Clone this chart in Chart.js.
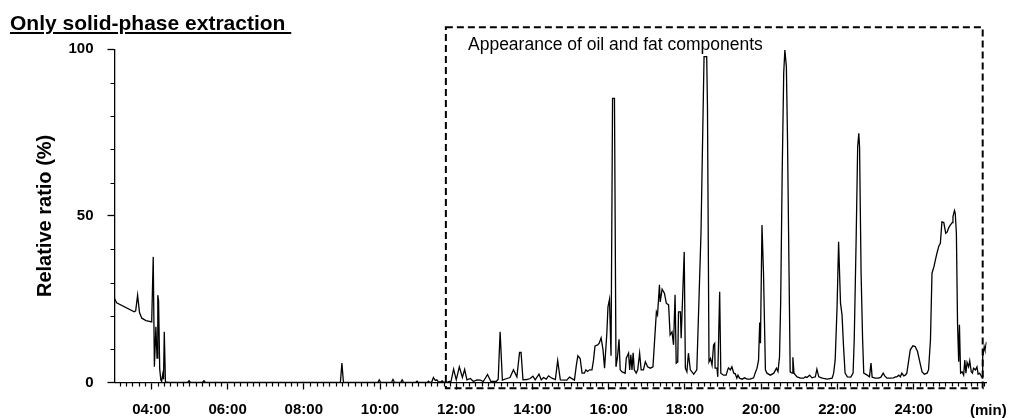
<!DOCTYPE html>
<html>
<head>
<meta charset="utf-8">
<script src="https://cdn.jsdelivr.net/npm/chart.js@4"></script>
<style>
  body { margin: 0; background: #fff; }
  .wrap { position: relative; width: 1010px; height: 418px; font-family: "Liberation Sans", Arial, sans-serif; color: #000; }
  .wrap canvas { position: absolute; left: 0; top: 0; }
  .title { position: absolute; left: 10px; top: 12px; font-size: 21px; font-weight: bold; line-height: 1; text-decoration: underline; white-space: pre; }
  .note { position: absolute; left: 468px; top: 36px; font-size: 17.5px; line-height: 1; white-space: pre; }
  .unit { position: absolute; left: 970px; top: 402px; font-size: 15px; font-weight: bold; line-height: 1; }
</style>
</head>
<body>
<div class="wrap">
  <canvas id="chromChart" width="1010" height="418"></canvas>
  <div class="title">Only solid-phase extraction </div>
  <div class="note">Appearance of oil and fat components</div>
  <div class="unit">(min)</div>
</div>
<script>
// retention time (min) and relative ratio (%)
const times = [
  3.03, 3.09, 3.55, 3.59, 3.64, 3.69, 3.75, 3.86, 4.01, 4.05, 4.08, 4.12, 4.15, 4.17, 4.19, 4.22,
  4.25, 4.27, 4.30, 4.32, 4.34, 4.37, 4.45, 4.95, 4.99, 5.03, 5.34, 5.38, 5.42, 8.96, 9.00, 9.04,
  9.94, 9.98, 10.02, 10.30, 10.34, 10.38, 10.54, 10.58, 10.62, 10.93, 10.97, 11.01, 11.24, 11.27, 11.30,
  11.36, 11.40, 11.45, 11.49, 11.53, 11.60, 11.63, 11.67, 11.78, 11.82, 11.86,
  11.93, 12.00, 12.08, 12.16, 12.22, 12.28, 12.37, 12.45, 12.54, 12.63, 12.71, 12.82, 12.91, 13.05, 13.10,
  13.15, 13.21, 13.33, 13.41, 13.50, 13.59, 13.66, 13.70, 13.75, 13.85, 13.94, 14.01, 14.07, 14.17, 14.23,
  14.29, 14.36, 14.42, 14.51, 14.60, 14.66, 14.73, 14.90, 14.97, 15.10, 15.15, 15.19, 15.25, 15.30, 15.36,
  15.40, 15.44, 15.50, 15.56, 15.60, 15.64, 15.71, 15.75, 15.80, 15.85, 15.89, 15.95, 15.98, 16.02, 16.06,
  16.10, 16.15, 16.19, 16.23, 16.27, 16.30, 16.35, 16.43, 16.46, 16.52, 16.55, 16.58, 16.61, 16.64, 16.67,
  16.72, 16.76, 16.81, 16.85, 16.91, 16.96, 17.02, 17.09, 17.16, 17.22, 17.25, 17.28, 17.33, 17.35, 17.40,
  17.46, 17.51, 17.57, 17.61, 17.66, 17.70, 17.74, 17.77, 17.81, 17.83, 17.88, 17.90, 17.98, 18.01, 18.05,
  18.09, 18.14, 18.23, 18.31, 18.34, 18.38, 18.42, 18.50, 18.57, 18.59, 18.63, 18.67, 18.71, 18.75, 18.78,
  18.79, 18.84, 18.86, 18.91, 18.94, 19.01, 19.08, 19.12, 19.14, 19.19, 19.23, 19.28, 19.32, 19.36, 19.39,
  19.43, 19.50, 19.56, 19.63, 19.71, 19.80, 19.84, 19.89, 19.93, 19.96, 19.98, 20.02, 20.06, 20.11, 20.15,
  20.24, 20.33, 20.40, 20.44, 20.48, 20.51, 20.55, 20.59, 20.62, 20.66, 20.69, 20.73, 20.76, 20.81, 20.83,
  20.86, 20.94, 21.03, 21.11, 21.16, 21.20, 21.27, 21.33, 21.42, 21.46, 21.51, 21.60, 21.73, 21.86, 21.90,
  21.94, 21.99, 22.03, 22.08, 22.12, 22.16, 22.20, 22.26, 22.35, 22.41, 22.44, 22.49, 22.53, 22.56, 22.58,
  22.62, 22.66, 22.69, 22.78, 22.84, 22.88, 22.91, 22.99, 23.08, 23.14, 23.20, 23.24, 23.30, 23.39, 23.47,
  23.52, 23.56, 23.61, 23.65, 23.69, 23.74, 23.78, 23.82, 23.87, 23.91, 23.98, 24.04, 24.10, 24.16, 24.22,
  24.28, 24.35, 24.39, 24.44, 24.48, 24.53, 24.57, 24.61, 24.66, 24.70, 24.74, 24.79, 24.84, 24.88, 24.92,
  24.96, 25.01, 25.03, 25.07, 25.09, 25.12, 25.15, 25.18, 25.20, 25.23, 25.27, 25.31, 25.34, 25.37, 25.40,
  25.44, 25.47, 25.51, 25.54, 25.57, 25.62, 25.66, 25.69, 25.73, 25.76, 25.80, 25.81, 25.85, 25.87, 25.91
];
const ratios = [
  25.3, 23.9, 21.2, 21.5, 26.2, 21.0, 19.3, 18.6, 18.2, 37.7, 4.7, 16.7, 7.3, 26.2, 24.5, 4.0,
  0.7, 0.3, 2.5, 1.0, 15.2, 0.2, 0, 0, 0.5, 0, 0, 0.5, 0, 0, 5.8, 0,
  0, 0.8, 0, 0, 0.9, 0, 0, 0.8, 0, 0, 0.4, 0, 0, 0.4, 0,
  0.2, 1.5, 0.6, 0.8, 0.2, 0.2, 0.5, 0.1, 0.2, 0.3, 0.2,
  4.0, 0.8, 4.7, 1.5, 3.9, 0.8, 1.2, 0.3, 0.8, 0.7, 0.3, 2.4, 0.3, 0.3, 1.0,
  15.2, 0.7, 1.2, 1.5, 3.8, 1.7, 9.0, 9.0, 0.8, 0.9, 1.2, 1.9, 0.8, 2.5, 0.8,
  1.5, 1.0, 2.0, 1.3, 0.9, 6.6, 0.8, 0.7, 1.6, 0.7, 5.2, 8.0, 7.2, 2.8, 2.8,
  3.8, 3.3, 3.8, 3.8, 6.7, 11.0, 11.3, 11.8, 13.4, 9.8, 4.3, 14.8, 22.7, 25.0, 8.0,
  85.3, 85.3, 4.7, 7.7, 13.0, 3.8, 3.2, 2.8, 7.3, 8.8, 3.8, 8.3, 3.8, 8.9, 3.8,
  2.8, 3.8, 8.8, 3.8, 3.8, 6.2, 4.7, 4.3, 4.7, 15.8, 21.2, 20.3, 29.3, 24.2, 28.0,
  26.8, 23.8, 23.3, 14.3, 15.2, 11.3, 26.3, 5.8, 6.2, 21.2, 21.2, 13.3, 39.2, 4.3, 3.2,
  8.8, 3.8, 2.5, 3.8, 14.8, 29.8, 44.8, 97.8, 97.8, 82.7, 6.2, 7.2, 5.2, 11.3, 11.8,
  4.3, 4.3, 1.7, 27.2, 2.8, 2.2, 2.2, 3.8, 4.4, 3.8, 4.7, 2.8, 2.6, 1.3, 2.2,
  1.3, 1.0, 1.4, 1.0, 1.0, 1.4, 2.8, 4.3, 6.7, 18.0, 11.8, 47.3, 32.8, 3.8, 2.8,
  2.2, 2.8, 4.3, 3.3, 7.7, 23.8, 62.8, 92.8, 99.8, 94.8, 72.8, 32.8, 3.2, 2.8, 7.6,
  2.8, 1.7, 1.3, 1.3, 1.7, 1.5, 2.2, 1.4, 1.7, 4.0, 1.7, 1.3, 1.0, 1.3, 2.8,
  6.7, 22.7, 42.2, 23.8, 20.3, 10.7, 2.8, 1.7, 1.6, 2.8, 12.8, 42.8, 70.7, 74.8, 70.7,
  32.8, 12.8, 2.8, 2.2, 1.7, 5.8, 1.6, 1.3, 1.3, 1.6, 2.8, 2.0, 1.3, 1.3, 1.4,
  1.7, 1.7, 2.2, 1.7, 2.8, 2.0, 2.2, 2.8, 6.7, 9.8, 11.0, 10.8, 9.3, 6.2, 3.2,
  2.5, 2.8, 3.8, 12.8, 32.8, 34.7, 36.8, 38.8, 41.0, 41.8, 48.2, 48.0, 44.8, 45.2, 46.5,
  47.2, 48.0, 49.8, 51.6, 50.8, 44.8, 17.8, 6.2, 17.3, 2.8, 3.2, 2.2, 6.7, 2.8, 6.0,
  4.7, 6.5, 3.2, 2.8, 4.3, 3.8, 4.7, 2.5, 2.8, 2.2, 1.3, 7.7, 10.7, 9.8, 12.2
];

// axis ticks
const xTickMinutes = [4, 6, 8, 10, 12, 14, 16, 18, 20, 22, 24];
const xTickLabels = ['04:00', '06:00', '08:00', '10:00', '12:00', '14:00', '16:00', '18:00', '20:00', '22:00', '24:00'];
const yTickValues = [0, 50, 100];
const xMinorStep = 1 / 6;   // every 10 s
const yMinorStep = 10;

// axis range
const xMin = 3.034, xMax = 25.91;
const yMin = 0, yMax = 100;

// dashed box around the oil and fat region (in axis units)
const boxStart = 11.727, boxEnd = 25.81;
const boxTop = 106.6, boxBottom = -1.74;

const fontFamily = '"Liberation Sans", Arial, sans-serif';

// minor tick marks
const minorTicks = {
    id: 'minorTicks',
    afterDraw(chart) {
        const c = chart.ctx;
        const x = chart.scales.x;
        const y = chart.scales.y;
        c.save();
        c.strokeStyle = '#000';
        c.lineWidth = 1.2;
        c.beginPath();
        for (let k = Math.ceil(xMin / xMinorStep); k * xMinorStep <= xMax; k++) {
            if (k % 12 === 0) continue;
            const px = Math.round(x.getPixelForValue(k * xMinorStep)) + 0.5;
            c.moveTo(px, y.bottom);
            c.lineTo(px, y.bottom + 4);
        }
        for (let v = yMinorStep; v < yMax; v += yMinorStep) {
            if (yTickValues.includes(v)) continue;
            const py = Math.round(y.getPixelForValue(v)) + 0.5;
            c.moveTo(x.left - 4, py);
            c.lineTo(x.left, py);
        }
        c.stroke();
        c.restore();
    }
};

// dashed box
const dashedBox = {
    id: 'dashedBox',
    afterDraw(chart) {
        const c = chart.ctx;
        const x = chart.scales.x;
        const y = chart.scales.y;
        const left = x.getPixelForValue(boxStart);
        const right = x.getPixelForValue(boxEnd);
        const top = y.getPixelForValue(boxTop);
        const bottom = y.getPixelForValue(boxBottom);
        c.save();
        c.strokeStyle = '#000';
        c.lineWidth = 2;
        c.setLineDash([7, 4]);
        c.strokeRect(left, top, right - left, bottom - top);
        c.restore();
    }
};

const ctx = document.getElementById('chromChart').getContext('2d');
const chromChart = new Chart(ctx, {
    type: 'line',
    data: {
        datasets: [{
            data: times.map((t, i) => ({ x: t, y: ratios[i] })),
            borderColor: '#000',
            borderWidth: 1.3,
            pointRadius: 0,
            tension: 0,
            fill: false
        }]
    },
    options: {
        responsive: false,
        animation: false,
        layout: { padding: { left: 0, right: 23.5, top: 49.3, bottom: 0 } },
        plugins: {
            legend: { display: false },
            tooltip: { enabled: false }
        },
        scales: {
            x: {
                type: 'linear',
                min: xMin,
                max: xMax,
                border: { color: '#000', width: 1.3 },
                grid: { drawOnChartArea: false, tickLength: 7, tickColor: '#000', tickWidth: 1.3 },
                afterBuildTicks: scale => { scale.ticks = xTickMinutes.map(v => ({ value: v })); },
                afterFit: scale => { scale.height = 35.5; },
                ticks: {
                    autoSkip: false,
                    maxRotation: 0,
                    padding: 11,
                    color: '#000',
                    font: { family: fontFamily, size: 15, weight: 'bold' },
                    callback: (value, index) => xTickLabels[index]
                }
            },
            y: {
                min: yMin,
                max: yMax,
                border: { color: '#000', width: 1.3 },
                grid: { drawOnChartArea: false, tickLength: 7, tickColor: '#000', tickWidth: 1.3 },
                afterBuildTicks: scale => { scale.ticks = yTickValues.map(v => ({ value: v })); },
                afterFit: scale => { scale.width = 114.5; },
                ticks: {
                    padding: 14,
                    color: '#000',
                    font: { family: fontFamily, size: 15, weight: 'bold' },
                    callback: value => String(value)
                },
                title: {
                    display: true,
                    text: 'Relative ratio (%)',
                    color: '#000',
                    padding: { top: 33, bottom: 0 },
                    font: { family: fontFamily, size: 20, weight: 'bold' }
                }
            }
        }
    },
    plugins: [minorTicks, dashedBox]
});
</script>
</body>
</html>
